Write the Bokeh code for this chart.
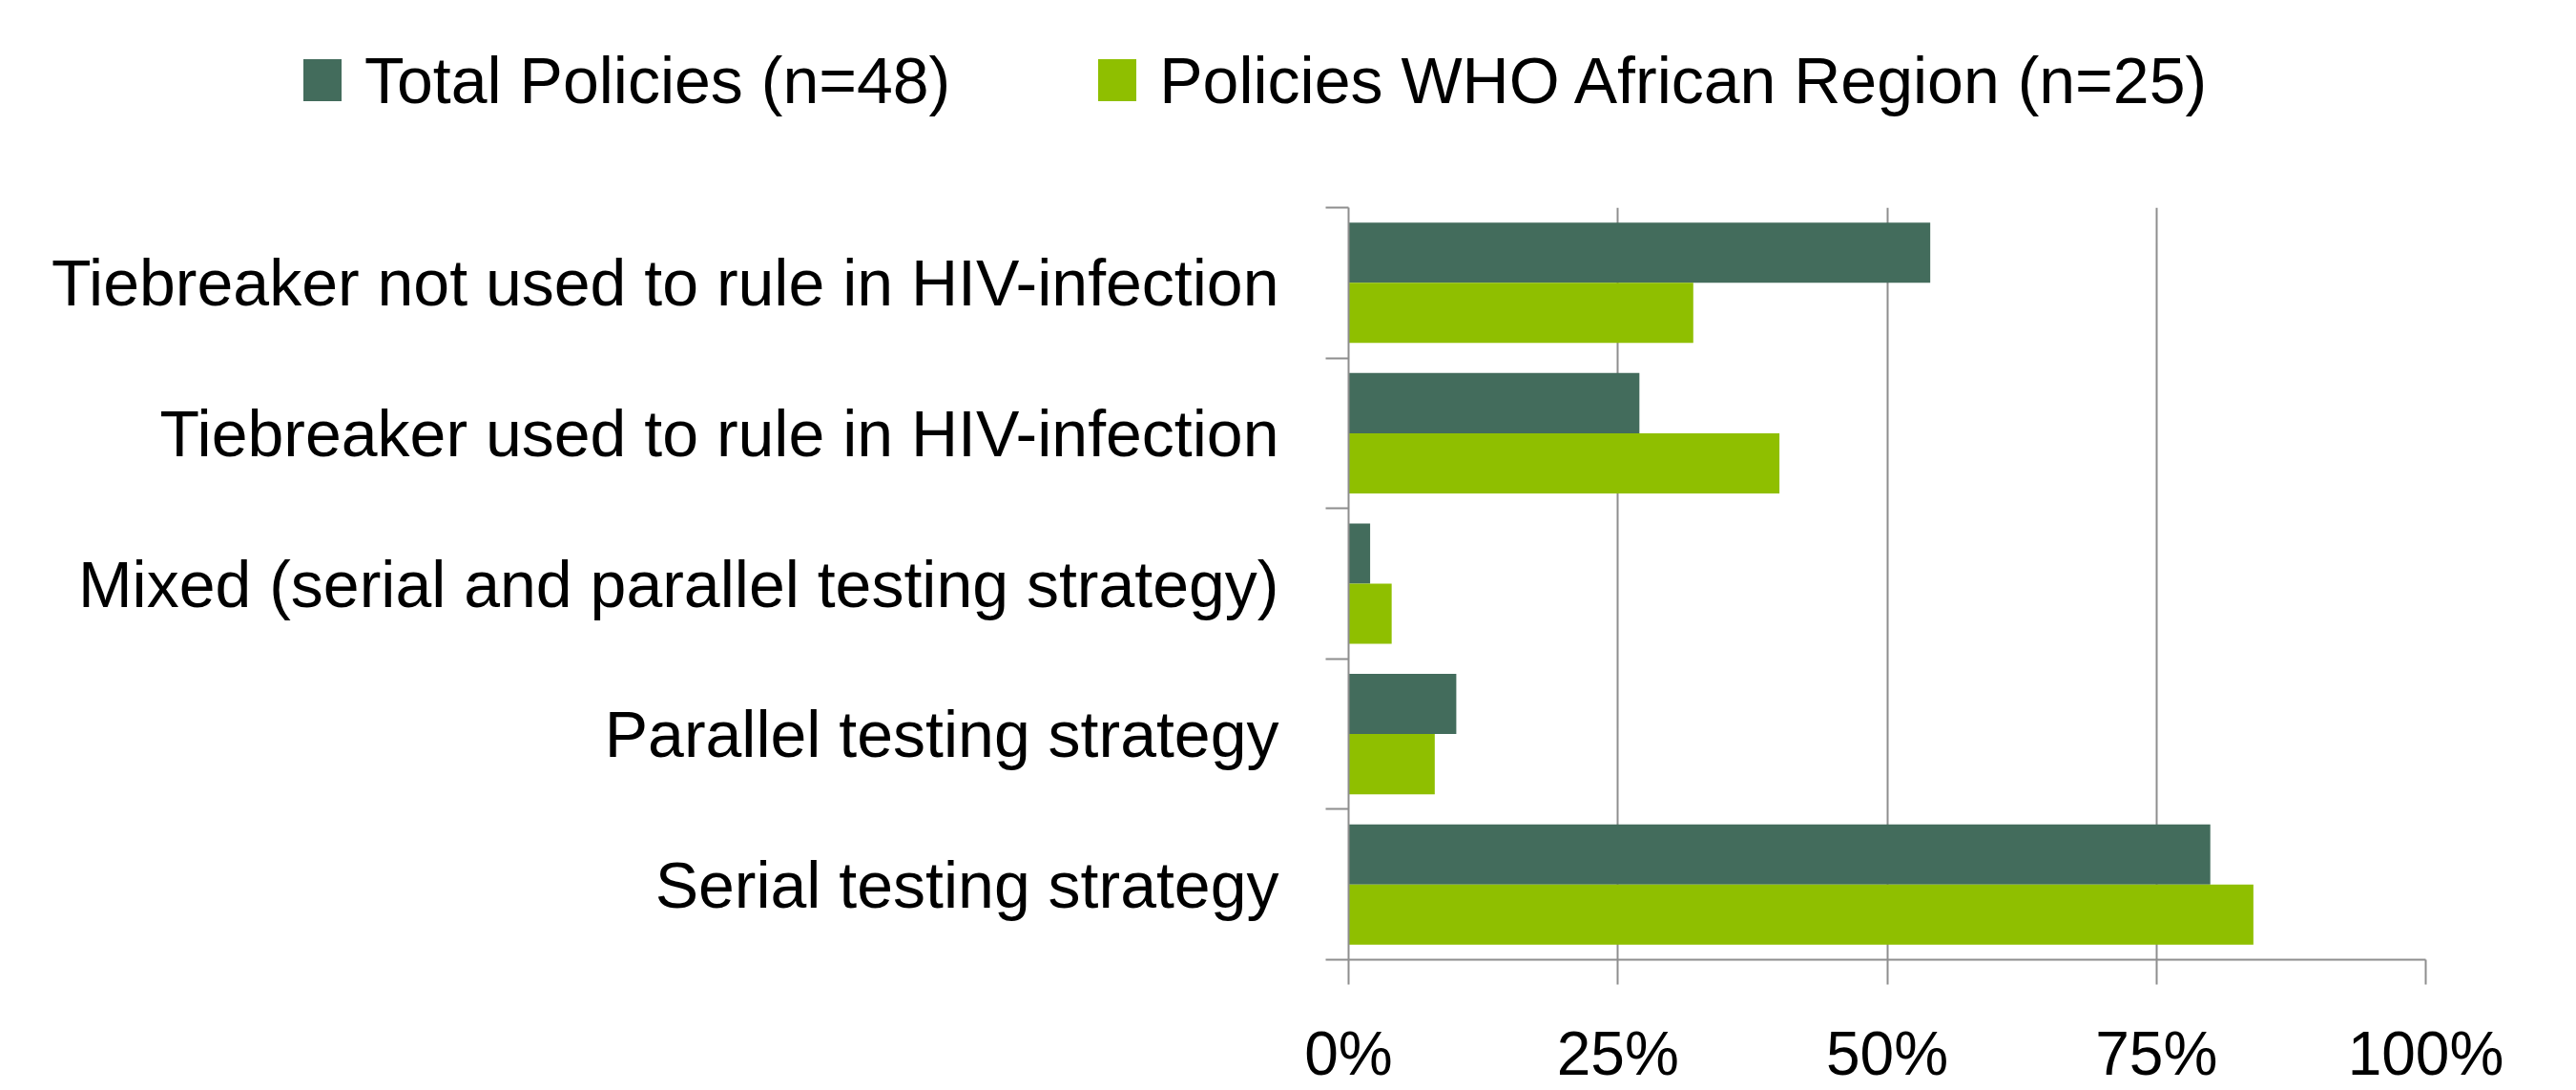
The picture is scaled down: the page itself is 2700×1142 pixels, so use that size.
from bokeh.plotting import figure
from bokeh.layouts import column
from bokeh.models import (ColumnDataSource, FixedTicker, LinearAxis, Range1d,
                          PrintfTickFormatter, Div)
from bokeh.embed import file_html
from bokeh.resources import INLINE

# ---- data (bottom to top) ----
categories = [
    "Serial testing strategy",
    "Parallel testing strategy",
    "Mixed (serial and parallel testing strategy)",
    "Tiebreaker used to rule in HIV-infection",
    "Tiebreaker not used to rule in HIV-infection",
]
total_policies = [80, 10, 2, 27, 54]
african_policies = [84, 8, 4, 40, 32]
x_ticks = [0, 25, 50, 75, 100]
series_names = ["Total Policies (n=48)", "Policies WHO African Region (n=25)"]

DARK = "#436C5C"
LIGHT = "#8FBF00"
GRID = "#8E8E8E"
FONT = "Liberation Sans"
series_colors = [DARK, LIGHT]

centers = [i + 0.5 for i in range(len(categories))]
boundaries = [float(i) for i in range(len(categories) + 1)]

src_total = ColumnDataSource(dict(y=[c + 0.2 for c in centers], v=total_policies))
src_afr = ColumnDataSource(dict(y=[c - 0.2 for c in centers], v=african_policies))

W = 2700
LEG_H = 150
MAIN_H = 1142 - LEG_H

# ---- legend strip (HTML) ----
items_html = []
for k, (name, col) in enumerate(zip(series_names, series_colors)):
    ml = 0 if k == 0 else 155
    items_html.append(
        f'<span style="display:inline-block;flex:none;width:40px;height:44px;'
        f'background:{col};margin-left:{ml}px;margin-right:24px;"></span>'
        f'<span style="flex:none;">{name}</span>')
legend_html = (
    f'<div style="display:flex;align-items:center;height:44px;margin:62px 0 0 0;'
    f'padding-left:318px;font-family:\'{FONT}\',sans-serif;font-size:68px;'
    f'line-height:1;color:black;white-space:nowrap;">' + "".join(items_html) + '</div>')
legend_div = Div(text=legend_html, width=W, height=LEG_H, margin=0)

# ---- main chart ----
p = figure(width=W, height=MAIN_H, output_backend="svg", toolbar_location=None,
           x_range=Range1d(0, 100), y_range=Range1d(0, len(categories)),
           min_border_left=1413, min_border_right=158,
           min_border_top=217 - LEG_H, min_border_bottom=136)
p.outline_line_color = None
p.margin = 0

p.hbar(y="y", right="v", left=0, height=0.4, source=src_total,
       fill_color=DARK, line_color=None)
p.hbar(y="y", right="v", left=0, height=0.4, source=src_afr,
       fill_color=LIGHT, line_color=None)

xa = p.xaxis[0]
xa.ticker = FixedTicker(ticks=x_ticks)
xa.formatter = PrintfTickFormatter(format="%d%%")
xa.major_tick_out = 26
xa.major_tick_in = 0
xa.minor_tick_line_color = None
xa.axis_line_color = GRID
xa.axis_line_width = 2
xa.major_tick_line_color = GRID
xa.major_tick_line_width = 2
xa.major_label_text_font = FONT
xa.major_label_text_font_size = "64px"
xa.major_label_text_color = "black"
xa.major_label_standoff = 36

p.xgrid.ticker = FixedTicker(ticks=x_ticks)
p.xgrid.grid_line_color = GRID
p.xgrid.grid_line_width = 2
p.ygrid.grid_line_color = None

ya = p.yaxis[0]
ya.ticker = FixedTicker(ticks=boundaries)
ya.major_tick_out = 24
ya.major_tick_in = 0
ya.minor_tick_line_color = None
ya.axis_line_color = GRID
ya.axis_line_width = 2
ya.major_tick_line_color = GRID
ya.major_tick_line_width = 2
ya.major_label_text_font_size = "0px"
ya.major_label_text_alpha = 0
ya.major_label_standoff = 0

ylab = LinearAxis(ticker=FixedTicker(ticks=centers),
                  major_label_overrides={c: lab for c, lab in zip(centers, categories)})
ylab.axis_line_color = None
ylab.major_tick_line_color = None
ylab.minor_tick_line_color = None
ylab.major_tick_out = 0
ylab.major_tick_in = 0
ylab.major_label_text_font = FONT
ylab.major_label_text_font_size = "68px"
ylab.major_label_text_color = "black"
ylab.major_label_standoff = 49
p.add_layout(ylab, "left")

layout = column(legend_div, p, spacing=0)
open("out.html", "w").write(file_html(layout, INLINE))
